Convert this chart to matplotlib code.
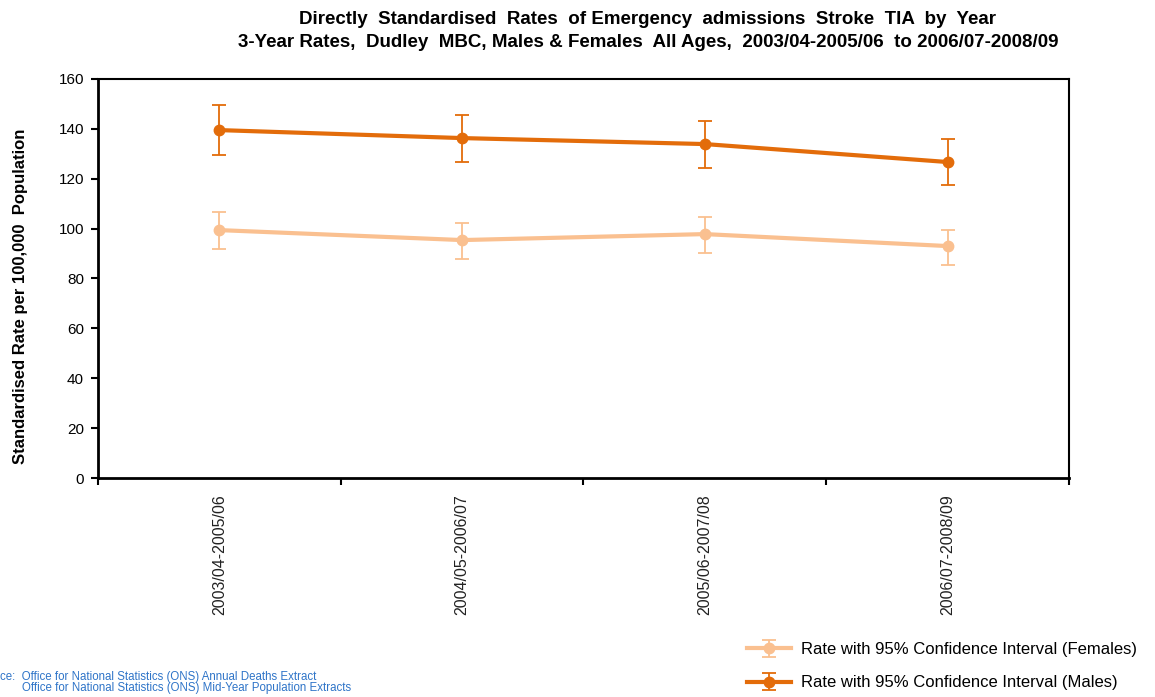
import matplotlib
matplotlib.use("Agg")
import matplotlib.pyplot as plt
import numpy as np

periods = ["2003/04-2005/06", "2004/05-2006/07", "2005/06-2007/08", "2006/07-2008/09"]
males = [139.5, 136.3, 133.9, 126.7]
males_lo = [129.5, 126.7, 124.3, 117.5]
males_hi = [149.6, 145.5, 143.1, 135.9]
females = [99.4, 95.4, 97.8, 93.0]
females_lo = [91.8, 87.8, 90.2, 85.4]
females_hi = [106.7, 102.2, 104.6, 99.4]

C_M = "#E36C0A"
C_F = "#FAC090"
plt.rcParams["font.family"] = ["Liberation Sans", "DejaVu Sans"]

x = np.arange(len(periods))
fig = plt.figure(figsize=(11.55, 6.97), dpi=100)
ax = fig.add_axes([0.0848, 0.3142, 0.8407, 0.5725])


def err(v, lo, hi):
    v = np.array(v)
    return [v - np.array(lo), np.array(hi) - v]


hf = ax.errorbar(x, females, yerr=err(females, females_lo, females_hi), color=C_F,
                 lw=3, marker="o", ms=7.5, capsize=5, elinewidth=1.3, capthick=1.3,
                 label="Rate with 95% Confidence Interval (Females)")
hm = ax.errorbar(x, males, yerr=err(males, males_lo, males_hi), color=C_M,
                 lw=3, marker="o", ms=7.5, capsize=5, elinewidth=1.3, capthick=1.3,
                 label="Rate with 95% Confidence Interval (Males)")

ax.set_xlim(-0.5, 3.5)
ax.set_ylim(0, 160)
ax.set_yticks(range(0, 161, 20))
ax.set_xticks(x)
ax.set_xticklabels(periods, rotation=90, fontsize=11.5, color="#222222")
ax.set_xticks(np.arange(-0.5, 4, 1), minor=True)
ax.tick_params(axis="x", which="major", length=0, pad=12)
ax.tick_params(axis="x", which="minor", length=5, width=1.5, direction="out")
ax.tick_params(axis="y", length=5, width=1.5, direction="out", labelsize=11, pad=5)
for s in ["left", "bottom"]:
    ax.spines[s].set_linewidth(2)
for s in ["top", "right"]:
    ax.spines[s].set_linewidth(1.5)
ax.set_ylabel("Standardised Rate per 100,000  Population", fontsize=12,
              fontweight="bold")
ax.yaxis.set_label_coords(-0.0725, 0.456)

fig.text(0.561, 0.972, "Directly  Standardised  Rates  of Emergency  admissions  Stroke  TIA  by  Year",
         ha="center", va="center", fontsize=13.5, fontweight="bold")
fig.text(0.561, 0.939, "3-Year Rates,  Dudley  MBC, Males & Females  All Ages,  2003/04-2005/06  to 2006/07-2008/09",
         ha="center", va="center", fontsize=13.5, fontweight="bold")

fig.legend(handles=[hf, hm], loc="lower right", bbox_to_anchor=(0.997, -0.012),
           frameon=False, fontsize=12, labelspacing=1.1, handlelength=2.6,
           handletextpad=0.6)

fig.text(0.0, 0.029, "ce:  Office for National Statistics (ONS) Annual Deaths Extract",
         fontsize=8.3, color="#2E74C8", va="center")
fig.text(0.019, 0.013, "Office for National Statistics (ONS) Mid-Year Population Extracts",
         fontsize=8.3, color="#2E74C8", va="center")

fig.savefig("out.png", dpi=100)
